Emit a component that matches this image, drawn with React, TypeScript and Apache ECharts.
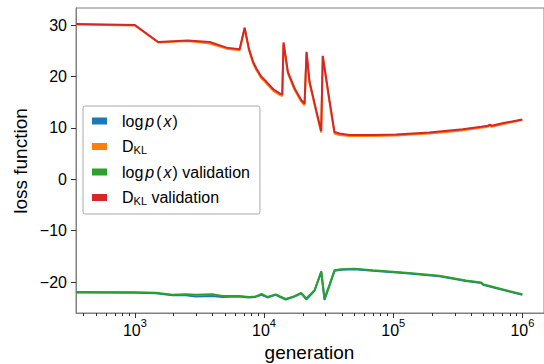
import React, { useEffect, useRef } from "react";
import * as echarts from "echarts";

// ---- data ----
const genKL = [350, 1000, 1514, 2570, 3800, 5120, 6470, 7080, 7640, 8240, 8710, 9500, 10400, 11800, 13200, 13840, 14160, 15300, 17230, 19400, 20600, 21340, 22500, 25350, 27700, 28500, 32100, 35100, 38400, 45900, 70000, 105300, 190500, 344500, 480000, 540000, 560000, 580000, 700000, 1000000];
const klValid = [30.2, 30.0, 26.7, 27.0, 26.7, 25.6, 25.3, 29.5, 25.4, 22.8, 21.6, 20.0, 19.0, 17.5, 16.7, 16.5, 26.6, 20.9, 17.7, 15.4, 14.7, 24.8, 19.0, 13.4, 9.4, 24.0, 15.4, 9.2, 8.9, 8.6, 8.6, 8.7, 9.1, 9.7, 10.2, 10.4, 10.6, 10.4, 10.9, 11.6];
const klTrain = [30.1, 29.9, 26.6, 26.9, 26.4, 25.4, 25.1, 29.3, 25.1, 22.5, 21.3, 19.7, 18.7, 17.2, 16.4, 16.2, 26.4, 20.6, 17.4, 15.1, 14.4, 24.6, 18.7, 13.1, 9.1, 23.8, 15.1, 8.9, 8.6, 8.4, 8.4, 8.5, 8.9, 9.5, 10.0, 10.2, 10.4, 10.2, 10.7, 11.5];

const genLogp = [350, 1000, 1453, 1954, 2477, 2960, 3980, 4760, 6400, 7640, 8610, 9580, 10600, 12300, 14700, 17030, 19400, 21230, 24610, 27730, 29400, 32100, 35150, 39570, 50000, 69450, 125900, 227700, 365700, 480000, 500000, 522000, 1000000];
const logpValid = [-21.95, -22.0, -22.1, -22.5, -22.4, -22.5, -22.4, -22.7, -22.7, -22.9, -22.8, -22.3, -22.9, -22.4, -23.3, -22.8, -22.1, -23.2, -21.6, -17.9, -23.2, -20.6, -17.7, -17.5, -17.4, -17.7, -18.2, -18.8, -19.7, -20.1, -20.5, -20.6, -22.4];
const logpTrain = [-22.05, -22.1, -22.2, -22.6, -22.6, -22.8, -22.7, -22.9, -22.8, -23.0, -22.9, -22.5, -23.0, -22.5, -23.4, -22.9, -22.2, -23.4, -21.7, -18.1, -23.5, -20.7, -17.8, -17.6, -17.5, -17.8, -18.3, -18.9, -19.8, -20.2, -20.6, -20.7, -22.5];

const xMajor = [3, 4, 5, 6];
const yTicks = [-20, -10, 0, 10, 20, 30];

const FONT = "'Liberation Sans', Arial, Helvetica, sans-serif";
const X_MIN = 2.5442;
const X_MAX = 6.1677;

function pairs(gen: number[], vals: number[]) {
  return gen.map((g, i) => [Math.log10(g), vals[i]]);
}

function minorTicks(): number[] {
  const out: number[] = [];
  for (let e = 2; e <= 6; e++) {
    for (let k = 2; k <= 9; k++) {
      const v = Math.log10(k * Math.pow(10, e));
      if (v > X_MIN && v < X_MAX) out.push(v);
    }
  }
  return out;
}

const LOGP = "{lg|log}{p|p}{par|(}{x|x}{n|)}";
const legendRich: Record<string, string> = {
  logp: LOGP,
  DKL: "{n|D}{sub|KL}",
  "logp validation": LOGP + "{n| validation}",
  "DKL validation": "{n|D}{sub|KL}{n| validation}",
};

export default function App() {
  const ref = useRef<HTMLDivElement>(null);
  useEffect(() => {
    if (!ref.current) return;
    const chart = echarts.init(ref.current, undefined, { renderer: "svg" });
    const lw = 2;
    const base = { fontSize: 16, fontFamily: FONT, color: "#000" };
    chart.setOption({
      animation: false,
      backgroundColor: "#fff",
      textStyle: { fontFamily: FONT },
      grid: {
        left: 76,
        top: 8,
        right: -1,
        bottom: 51,
        show: true,
        borderColor: "#808080",
        borderWidth: 1,
        backgroundColor: "transparent",
      },
      legend: {
        orient: "vertical",
        left: 83,
        top: 106,
        padding: [7, 10, 8, 9],
        itemGap: 9,
        itemWidth: 15,
        itemHeight: 7,
        icon: "rect",
        borderColor: "#aaa",
        borderWidth: 1,
        borderRadius: 2,
        backgroundColor: "#fff",
        data: ["logp", "DKL", "logp validation", "DKL validation"],
        formatter: (name: string) => legendRich[name],
        textStyle: {
          padding: [0, 0, 0, 10],
          rich: {
            n: { ...base },
            lg: { ...base, padding: [0, 1, 0, 0] },
            p: { ...base, fontStyle: "italic", padding: [0, 2, 0, 1] },
            par: { ...base, padding: [0, 1, 0, 0] },
            x: { ...base, fontStyle: "italic", padding: [0, 1, 0, 1] },
            sub: { fontSize: 11, fontFamily: FONT, color: "#000", lineHeight: 11, padding: [6, 0, 0, 0] },
          },
        },
      },
      xAxis: [
        {
          type: "value",
          min: X_MIN,
          max: X_MAX,
          position: "bottom",
          axisLine: { show: true, onZero: false, lineStyle: { color: "#808080", width: 1 } },
          axisTick: { show: true, customValues: xMajor, length: 5, lineStyle: { color: "#333" } },
          splitLine: { show: false },
          axisLabel: {
            customValues: xMajor,
            margin: 4,
            formatter: (v: number) => `{b|10}{s|${Math.round(v)}}`,
            rich: {
              b: { fontSize: 16, fontFamily: FONT, color: "#000", lineHeight: 26 },
              s: { fontSize: 11, fontFamily: FONT, color: "#000", lineHeight: 12, verticalAlign: "top" },
            },
          },
        },
        {
          type: "value",
          min: X_MIN,
          max: X_MAX,
          position: "bottom",
          offset: 0,
          axisLine: { show: false, onZero: false },
          axisTick: { show: true, customValues: minorTicks(), length: 3, lineStyle: { color: "#333" } },
          axisLabel: { show: false },
          splitLine: { show: false },
        },
      ],
      yAxis: {
        type: "value",
        min: -26.03,
        max: 33.31,
        axisLine: { show: true, onZero: false, lineStyle: { color: "#808080", width: 1 } },
        axisTick: { show: true, customValues: yTicks, length: 5, lineStyle: { color: "#333" } },
        splitLine: { show: false },
        axisLabel: {
          customValues: yTicks,
          margin: 9,
          fontSize: 16,
          fontFamily: FONT,
          color: "#000",
          formatter: (v: number) => (v < 0 ? "\u2212" + Math.abs(v) : String(v)),
        },
      },
      series: [
        { name: "logp", type: "line", symbol: "none", data: pairs(genLogp, logpTrain), lineStyle: { width: lw, color: "#1f77b4" }, itemStyle: { color: "#1f77b4" } },
        { name: "DKL", type: "line", symbol: "none", data: pairs(genKL, klTrain), lineStyle: { width: lw, color: "#ff7f0e" }, itemStyle: { color: "#ff7f0e" } },
        { name: "logp validation", type: "line", symbol: "none", data: pairs(genLogp, logpValid), lineStyle: { width: lw, color: "#2ca02c" }, itemStyle: { color: "#2ca02c" } },
        { name: "DKL validation", type: "line", symbol: "none", data: pairs(genKL, klValid), lineStyle: { width: lw, color: "#d62728" }, itemStyle: { color: "#d62728" } },
      ],
      graphic: [
        {
          type: "text",
          x: 309.5,
          y: 352,
          style: { text: "generation", fontSize: 19, fontFamily: FONT, fill: "#000", align: "center", verticalAlign: "middle" },
        },
        {
          type: "text",
          x: 20,
          y: 161,
          rotation: Math.PI / 2,
          style: { text: "loss function", fontSize: 19, fontFamily: FONT, fill: "#000", align: "center", verticalAlign: "middle" },
        },
      ],
    });
    return () => chart.dispose();
  }, []);
  return <div ref={ref} style={{ position: "absolute", left: 0, top: 0, width: 544, height: 364 }} />;
}
